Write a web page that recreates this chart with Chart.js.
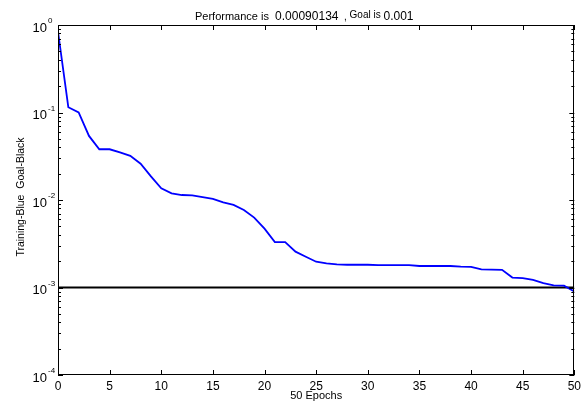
<!DOCTYPE html>
<html>
<head>
<meta charset="utf-8">
<script src="https://cdn.jsdelivr.net/npm/chart.js@4"></script>
<style>
  body { margin: 0; background: #fff; }
  canvas { display: block; }
</style>
</head>
<body>
<canvas id="grafico" width="585" height="401"></canvas>
<script>
// training record
const epochs = [0, 1, 2, 3, 4, 5, 6, 7, 8, 9, 10, 11, 12, 13, 14, 15, 16, 17, 18, 19, 20,
    21, 22, 23, 24, 25, 26, 27, 28, 29, 30, 31, 32, 33, 34, 35, 36, 37, 38, 39, 40,
    41, 42, 43, 44, 45, 46, 47, 48, 49, 50];
const performance = [0.84, 0.115, 0.1, 0.054, 0.038, 0.038, 0.035, 0.032, 0.026, 0.0186, 0.0136,
    0.0119, 0.0114, 0.0113, 0.0108, 0.0103, 0.0094, 0.0088, 0.0077, 0.0063, 0.0047,
    0.0033, 0.0033, 0.00257, 0.00225, 0.00197, 0.00189, 0.00184, 0.00182, 0.00182, 0.00182,
    0.0018, 0.0018, 0.0018, 0.0018, 0.00176, 0.00176, 0.00176, 0.00176, 0.00173, 0.00172,
    0.00161, 0.0016, 0.00159, 0.0013, 0.00128, 0.00122, 0.00112, 0.00106, 0.00105, 0.00090134];
const goal = 0.001;
const xTicks = [0, 5, 10, 15, 20, 25, 30, 35, 40, 45, 50];
const yExponents = [0, -1, -2, -3, -4];

const fonte = '"Liberation Sans", Arial, sans-serif';

const matlabBox = {
    id: 'matlabBox',
    afterDraw(chart) {
        const ctx = chart.ctx;
        const a = chart.chartArea;
        const xs = chart.scales.x;
        const ys = chart.scales.y;
        ctx.save();
        ctx.strokeStyle = '#000';
        ctx.lineWidth = 1;
        ctx.strokeRect(Math.round(a.left) + 0.5, Math.round(a.top) + 0.5,
            Math.round(a.right - a.left) - 1, Math.round(a.bottom - a.top) - 1);

        // inward ticks on x (top and bottom)
        ctx.beginPath();
        xTicks.forEach(v => {
            const px = Math.round(xs.getPixelForValue(v)) + 0.5;
            ctx.moveTo(px, a.bottom);
            ctx.lineTo(px, a.bottom - 5);
            ctx.moveTo(px, a.top);
            ctx.lineTo(px, a.top + 5);
        });
        // inward ticks on y, majors and minors
        for (let k = -4; k <= 0; k++) {
            for (let m = 1; m <= 9; m++) {
                if (k === 0 && m > 1) break;
                const py = Math.round(ys.getPixelForValue(m * Math.pow(10, k))) + 0.5;
                const len = m === 1 ? 5 : 3;
                ctx.moveTo(a.left, py);
                ctx.lineTo(a.left + len, py);
                ctx.moveTo(a.right, py);
                ctx.lineTo(a.right - len, py);
            }
        }
        ctx.stroke();

        // y labels 10^n
        ctx.fillStyle = '#000';
        yExponents.forEach(e => {
            const py = ys.getPixelForValue(Math.pow(10, e));
            ctx.font = '13px ' + fonte;
            ctx.textAlign = 'right';
            ctx.textBaseline = 'middle';
            ctx.fillText('10', 47, py + 3);
            ctx.font = '8px ' + fonte;
            ctx.textAlign = 'left';
            ctx.fillText(String(e), 48, py - 4);
        });

        // title in pieces
        ctx.textBaseline = 'alphabetic';
        ctx.textAlign = 'left';
        let x = 195;
        const partes = [
            ['Performance is  ', '11px', 20],
            ['0.00090134', '12px', 20],
            ['  , ', '10px', 20],
            ['Goal is ', '10px', 18],
            ['0.001', '12px', 20]
        ];
        partes.forEach(p => {
            ctx.font = p[1] + ' ' + fonte;
            ctx.fillText(p[0], x, p[2]);
            x += ctx.measureText(p[0]).width;
        });

        // axis titles
        ctx.font = '11px ' + fonte;
        ctx.textAlign = 'center';
        ctx.textBaseline = 'middle';
        ctx.fillText('50 Epochs', (a.left + a.right) / 2, 396);
        ctx.translate(21, 197);
        ctx.rotate(-Math.PI / 2);
        ctx.font = '10.5px ' + fonte;
        ctx.fillText('Training-Blue  Goal-Black', 0, 0);
        ctx.restore();
    }
};

const ctxGrafico = document.getElementById('grafico').getContext('2d');
new Chart(ctxGrafico, {
    type: 'line',
    data: {
        datasets: [
            {
                label: 'Training',
                data: epochs.map((e, i) => ({ x: e, y: performance[i] })),
                borderColor: '#0000ff',
                borderWidth: 1.8,
                pointRadius: 0,
                tension: 0,
                fill: false
            },
            {
                label: 'Goal',
                data: [{ x: 0, y: goal }, { x: 50, y: goal }],
                borderColor: '#000000',
                borderWidth: 2,
                pointRadius: 0,
                tension: 0,
                fill: false
            }
        ]
    },
    options: {
        responsive: false,
        animation: false,
        layout: { padding: { top: 25, right: 6, left: 0, bottom: 0 } },
        plugins: {
            legend: { display: false },
            title: { display: false },
            tooltip: { enabled: false }
        },
        scales: {
            x: {
                type: 'linear',
                min: 0,
                max: 50,
                afterBuildTicks: scale => { scale.ticks = xTicks.map(v => ({ value: v })); },
                afterFit: scale => { scale.height = 26; },
                grid: { display: false, drawTicks: false },
                border: { display: false },
                ticks: {
                    padding: 4,
                    maxRotation: 0,
                    autoSkip: false,
                    color: '#000',
                    font: { family: fonte, size: 12 }
                }
            },
            y: {
                type: 'logarithmic',
                min: 1e-4,
                max: 1,
                afterFit: scale => { scale.width = 58; },
                grid: { display: false, drawTicks: false },
                border: { display: false },
                ticks: { display: false }
            }
        }
    },
    plugins: [matlabBox]
});
</script>
</body>
</html>
